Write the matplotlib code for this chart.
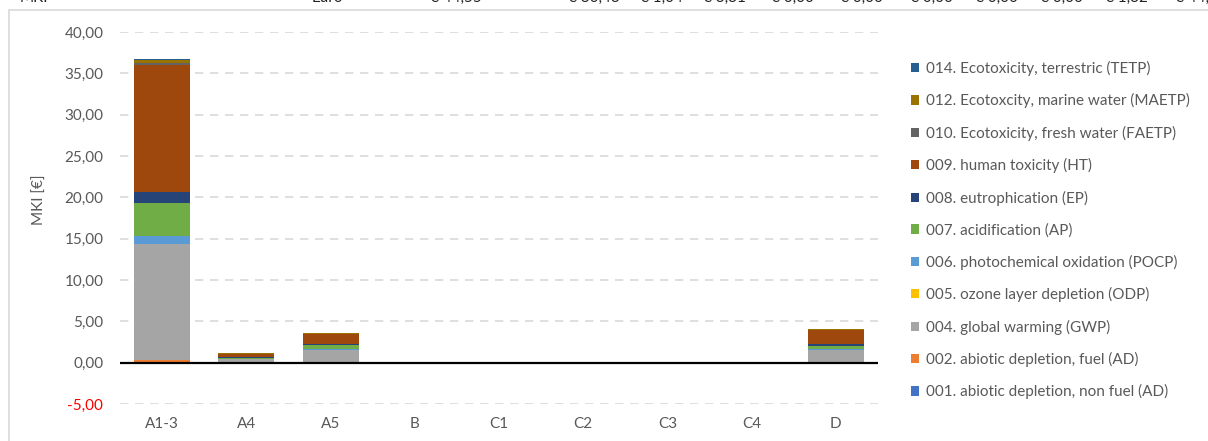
import matplotlib
matplotlib.use("Agg")
import matplotlib.pyplot as plt
from matplotlib.patches import Patch, Rectangle
import numpy as np

plt.rcParams['font.family'] = ['Lato', 'DejaVu Sans']

# categories (life cycle stages)
categories = ["A1-3", "A4", "A5", "B", "C1", "C2", "C3", "C4", "D"]

# impact categories, bottom of the stack first
series_names = [
    "001. abiotic depletion, non fuel (AD)",
    "002. abiotic depletion, fuel (AD)",
    "004. global warming (GWP)",
    "005. ozone layer depletion (ODP)",
    "006. photochemical oxidation (POCP)",
    "007. acidification (AP)",
    "008. eutrophication (EP)",
    "009. human toxicity (HT)",
    "010. Ecotoxicity, fresh water (FAETP)",
    "012. Ecotoxcity, marine water (MAETP)",
    "014. Ecotoxicity, terrestric (TETP)",
]
series_colors = ["#4472C4", "#ED7D31", "#A5A5A5", "#FFC000", "#5B9BD5", "#70AD47",
                 "#264478", "#9E480E", "#636363", "#997300", "#255E91"]

#                 A1-3   A4    A5    B  C1 C2 C3 C4  D
ad_non_fuel = [0.00, 0.00, 0.00, 0, 0, 0, 0, 0, 0.00]
ad_fuel     = [0.33, 0.02, 0.02, 0, 0, 0, 0, 0, 0.02]
gwp         = [14.07, 0.38, 1.48, 0, 0, 0, 0, 0, 1.50]
odp         = [0.00, 0.00, 0.00, 0, 0, 0, 0, 0, 0.00]
pocp        = [0.87, 0.03, 0.10, 0, 0, 0, 0, 0, 0.10]
ap          = [4.09, 0.17, 0.50, 0, 0, 0, 0, 0, 0.40]
ep          = [1.33, 0.06, 0.12, 0, 0, 0, 0, 0, 0.20]
ht          = [15.31, 0.38, 1.20, 0, 0, 0, 0, 0, 1.75]
faetp       = [0.20, 0.05, 0.08, 0, 0, 0, 0, 0, 0.03]
maetp       = [0.40, 0.06, 0.08, 0, 0, 0, 0, 0, 0.02]
tetp        = [0.10, 0.05, 0.04, 0, 0, 0, 0, 0, 0.00]
series_values = [ad_non_fuel, ad_fuel, gwp, odp, pocp, ap, ep, ht, faetp, maetp, tetp]

# spreadsheet row above the chart (cut off in the screenshot)
header_labels = ["MKI", "Euro", "€ 44,55", "€ 30,43", "€ 1,04", "€ 3,31", "€ 0,00", "€ 0,00",
                 "€ 0,00", "€ 0,00", "€ 0,00", "€ 1,32", "€ 44,55"]
header_x = [20, 312, 430, 568, 640, 703, 771, 840, 910, 975, 1040, 1105, 1175]

text_col = "#595959"
fs = 11
W, H = 1208, 441
fig = plt.figure(figsize=(W / 100, H / 100), dpi=100)

# chart border
fig.patches.append(Rectangle((9 / W, -0.1), 1.2, 1 - 9.5 / H + 0.1, transform=fig.transFigure,
                             fill=False, edgecolor="#D9D9D9", lw=1.2))
for lab, xx in zip(header_labels, header_x):
    fig.text(xx / W, 1 - 2 / H, lab, fontsize=fs, color="#222222", va="baseline", ha="left")

ax = fig.add_axes([120 / W, (H - 404) / H, 758 / W, 372 / H])
x = np.arange(len(categories))
bottom = np.zeros(len(categories))
for name, vals, col in zip(series_names, series_values, series_colors):
    v = np.array(vals, dtype=float)
    ax.bar(x, v, 0.665, bottom=bottom, color=col, label=name, zorder=3)
    bottom += v

ax.set_xlim(-0.5, len(categories) - 0.5)
ax.set_ylim(-5, 40)
ax.set_yticks(np.arange(-5, 41, 5))
ax.set_yticklabels([f"{t:.2f}".replace(".", ",") for t in np.arange(-5, 41, 5)])
for lbl in ax.get_yticklabels():
    lbl.set_color("#FF0000" if lbl.get_text().startswith("-") else text_col)
ax.yaxis.grid(True, color="#D9D9D9", lw=1.2, linestyle=(0, (5, 4)), zorder=0)
ax.axhline(0, color="black", lw=1.6, zorder=4)
ax.set_xticks(x)
ax.set_xticklabels(categories)
ax.tick_params(axis="x", length=0, pad=9, labelsize=fs, labelcolor=text_col)
ax.tick_params(axis="y", length=0, pad=12, labelsize=fs)
for s in ax.spines.values():
    s.set_visible(False)

fig.text(40 / W, 1 - 200 / H, "MKI [€]", rotation=90, fontsize=fs, color=text_col,
         ha="center", va="center")

handles = [Patch(facecolor=c, label=n) for n, c in zip(series_names, series_colors)][::-1]
fig.legend(handles=handles, loc="upper left", bbox_to_anchor=(911 / W, 1 - 61 / H),
           frameon=False, fontsize=fs, labelcolor=text_col, handlelength=0.55,
           handleheight=0.55, handletextpad=0.4, labelspacing=1.135, borderpad=0,
           borderaxespad=0)

fig.savefig("out.png", dpi=100)
